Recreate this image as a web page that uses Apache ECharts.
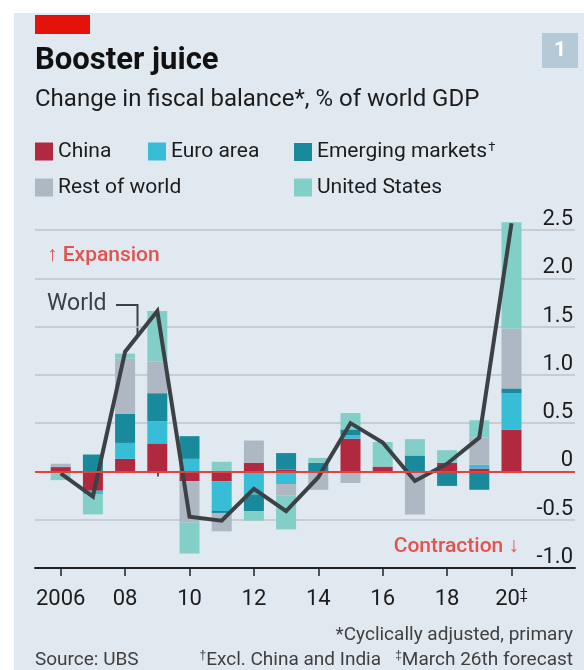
<!DOCTYPE html>
<html>
<head>
<meta charset="utf-8">
<script src="https://cdn.jsdelivr.net/npm/echarts@6/dist/echarts.min.js"></script>
<style>
html, body { margin: 0; padding: 0; background: #fff; }
#main { width: 584px; height: 670px; }
</style>
</head>
<body>
<div id="main"></div>
<script>
// years on the x axis
var years = ['2006', '2007', '2008', '2009', '2010', '2011', '2012', '2013', '2014', '2015', '2016', '2017', '2018', '2019', '2020'];
var labelYears = [2006, 2008, 2010, 2012, 2014, 2016, 2018, 2020];
var minorYears = [2007, 2009, 2011, 2013, 2015, 2017, 2019];

// change in fiscal balance, % of world GDP
var china     = [0.045, -0.20, 0.13, 0.29, -0.10, -0.10, 0.09, 0.02, 0, 0.34, 0.05, 0, 0.09, 0.03, 0.43];
var euroArea  = [0, -0.035, 0.165, 0.23, 0.13, -0.31, -0.24, -0.13, 0, 0.035, 0, 0, 0, 0.04, 0.38];
var emerging  = [0, 0.175, 0.30, 0.29, 0.235, -0.02, -0.17, 0.17, 0.09, 0.06, 0, 0.165, -0.15, -0.19, 0.05];
var restWorld = [0.035, 0, 0.575, 0.33, -0.43, -0.19, 0.23, -0.12, -0.19, -0.12, 0, -0.445, 0, 0.28, 0.62];
var us        = [-0.09, -0.21, 0.05, 0.52, -0.32, 0.10, -0.10, -0.35, 0.05, 0.17, 0.255, 0.17, 0.13, 0.18, 1.10];
var world     = [-0.02, -0.26, 1.24, 1.66, -0.47, -0.51, -0.18, -0.41, -0.06, 0.50, 0.30, -0.10, 0.08, 0.35, 2.57];

var FONT = 'Roboto, "Noto Sans", sans-serif';
var INK = '#1c1c1c';

// one year is 32.2px; first bar centre at x=60.7
var X_MIN = 2005.202, X_MAX = 2021.972;

function barSeries(name, vals, color) {
    return {
        name: name,
        type: 'bar',
        stack: 'total',
        xAxisIndex: 2,
        yAxisIndex: 1,
        barWidth: 20,
        clip: false,
        itemStyle: { color: color },
        data: vals,
        z: 2
    };
}

function legendAt(name, left, top) {
    return {
        data: [name],
        left: left,
        top: top,
        icon: 'rect',
        itemWidth: 18,
        itemHeight: 18,
        padding: 0,
        selectedMode: false,
        formatter: function (n) {
            return n === 'Emerging markets' ? '{t|' + n + '}{s|†}' : '{t|' + n + '}';
        },
        textStyle: {
            fontFamily: FONT,
            fontSize: 21,
            color: INK,
            rich: {
                t: { fontFamily: FONT, fontSize: 21, color: INK, lineHeight: 22 },
                s: { fontFamily: FONT, fontSize: 13, color: INK, lineHeight: 22, verticalAlign: 'top', padding: [0, 0, 10, 1] }
            }
        }
    };
}

var myChart = echarts.init(document.getElementById('main'));

var option = {
    animation: false,
    backgroundColor: '#e1e9f0',
    textStyle: { fontFamily: FONT },
    grid: [
        { left: 35, right: 9, top: 230, bottom: 102 },      // axes, gridlines
        { left: 44.6, right: 56.4, top: 230, bottom: 102 }  // bars and world line
    ],
    legend: [
        legendAt('China', 35, 141),
        legendAt('Euro area', 148, 141),
        legendAt('Emerging markets', 294, 141),
        legendAt('Rest of world', 35, 177),
        legendAt('United States', 294, 177)
    ],
    xAxis: [
        {
            type: 'value',
            gridIndex: 0,
            min: X_MIN,
            max: X_MAX,
            axisLine: { show: true, onZero: false, lineStyle: { color: '#222', width: 2 } },
            axisTick: { show: true, customValues: labelYears, length: 8, lineStyle: { color: '#222', width: 1.5 } },
            axisLabel: {
                customValues: labelYears,
                margin: 20,
                fontFamily: FONT,
                fontSize: 22,
                color: INK,
                formatter: function (v) {
                    if (v === 2006) return '{t|2006}';
                    var s = String(v).slice(2);
                    return v === 2020 ? '{t|' + s + '}{s|‡}' : '{t|' + s + '}';
                },
                rich: {
                    t: { fontFamily: FONT, fontSize: 22, color: INK, lineHeight: 22 },
                    s: { fontFamily: FONT, fontSize: 14, color: INK, lineHeight: 22, verticalAlign: 'top', padding: [0, 0, 10, 0] }
                }
            },
            splitLine: { show: false }
        },
        {
            type: 'value',
            gridIndex: 0,
            min: X_MIN,
            max: X_MAX,
            position: 'bottom',
            axisLine: { show: false },
            axisTick: { show: true, customValues: minorYears, length: 5, lineStyle: { color: '#222', width: 1.5 } },
            axisLabel: { show: false },
            splitLine: { show: false }
        },
        {
            type: 'category',
            gridIndex: 1,
            data: years,
            show: false
        }
    ],
    yAxis: [
        {
            type: 'value',
            gridIndex: 0,
            position: 'right',
            min: -1,
            max: 2.5,
            interval: 0.5,
            axisLine: { show: false },
            axisTick: { show: false },
            splitLine: { show: true, lineStyle: { color: '#bcc4cb', width: 1.5 } },
            axisLabel: {
                inside: true,
                margin: 2,
                verticalAlign: 'bottom',
                lineHeight: 21,
                fontFamily: FONT,
                fontSize: 22,
                color: INK,
                formatter: function (v) {
                    return v === 0 ? '0' : v.toFixed(1);
                }
            }
        },
        {
            type: 'value',
            gridIndex: 1,
            min: -1,
            max: 2.5,
            show: false,
            splitLine: { show: false }
        }
    ],
    series: [
        barSeries('China', china, '#b0293f'),
        barSeries('Euro area', euroArea, '#38bdd7'),
        barSeries('Emerging markets', emerging, '#188a9b'),
        barSeries('Rest of world', restWorld, '#adb8c2'),
        barSeries('United States', us, '#82cfc7'),
        {
            name: 'zero',
            type: 'line',
            xAxisIndex: 0,
            yAxisIndex: 0,
            data: [],
            z: 3,
            silent: true,
            markLine: {
                silent: true,
                symbol: 'none',
                label: { show: false },
                lineStyle: { color: '#e5423f', width: 2, type: 'solid' },
                data: [{ yAxis: 0 }]
            }
        },
        {
            name: 'World',
            type: 'line',
            xAxisIndex: 2,
            yAxisIndex: 1,
            data: world,
            symbol: 'none',
            clip: false,
            z: 4,
            lineStyle: { color: '#3c4146', width: 4, join: 'miter' }
        }
    ],
    graphic: [
        // white margin round the panel
        { type: 'rect', shape: { x: 0, y: 0, width: 584, height: 13 }, style: { fill: '#fff' } },
        { type: 'rect', shape: { x: 0, y: 0, width: 14, height: 670 }, style: { fill: '#fff' } },
        // red tag
        { type: 'rect', shape: { x: 35, y: 15, width: 55, height: 19 }, style: { fill: '#e3120b' } },
        // chart number
        { type: 'rect', shape: { x: 542, y: 33, width: 36, height: 35 }, style: { fill: '#b6c9d7' } },
        { type: 'text', x: 560, y: 51, style: { text: '1', font: 'bold 21px ' + FONT, fill: '#fff', textAlign: 'center', textVerticalAlign: 'middle' } },
        // titles
        { type: 'text', x: 35, y: 61, style: { text: 'Booster juice', font: 'bold 31px ' + FONT, fill: '#111', textVerticalAlign: 'middle' } },
        { type: 'text', x: 35, y: 100, style: { text: 'Change in fiscal balance*, % of world GDP', font: '24px ' + FONT, fill: INK, textVerticalAlign: 'middle' } },
        // annotations
        { type: 'text', x: 47, y: 256, style: { text: '↑ Expansion', font: '500 21px ' + FONT, fill: '#e2524f', textVerticalAlign: 'middle' } },
        { type: 'text', x: 519, y: 547, style: { text: 'Contraction ↓', font: '500 21px ' + FONT, fill: '#e2524f', textAlign: 'right', textVerticalAlign: 'middle' } },
        { type: 'text', x: 47, y: 304, style: { text: 'World', font: '23px ' + FONT, fill: '#3c4146', textVerticalAlign: 'middle' } },
        { type: 'polyline', shape: { points: [[116, 305], [137.5, 305], [137.5, 337]] }, style: { stroke: '#3c4146', lineWidth: 2, fill: null } },
        // footnotes
        { type: 'text', x: 573, y: 635, style: { text: '*Cyclically adjusted, primary', font: '19px ' + FONT, fill: '#404040', textAlign: 'right', textVerticalAlign: 'middle' } },
        { type: 'text', x: 35, y: 660, style: { text: 'Source: UBS', font: '19px ' + FONT, fill: '#404040', textVerticalAlign: 'middle' } },
        {
            type: 'text', x: 573, y: 660,
            style: {
                text: '{s|†}Excl. China and India   {s|‡}March 26th forecast',
                font: '19px ' + FONT, fill: '#404040', textAlign: 'right', textVerticalAlign: 'middle',
                rich: { s: { fontSize: 12, fill: '#404040', verticalAlign: 'top', padding: [0, 0, 8, 0] } }
            }
        }
    ]
};

myChart.setOption(option);
</script>
</body>
</html>
